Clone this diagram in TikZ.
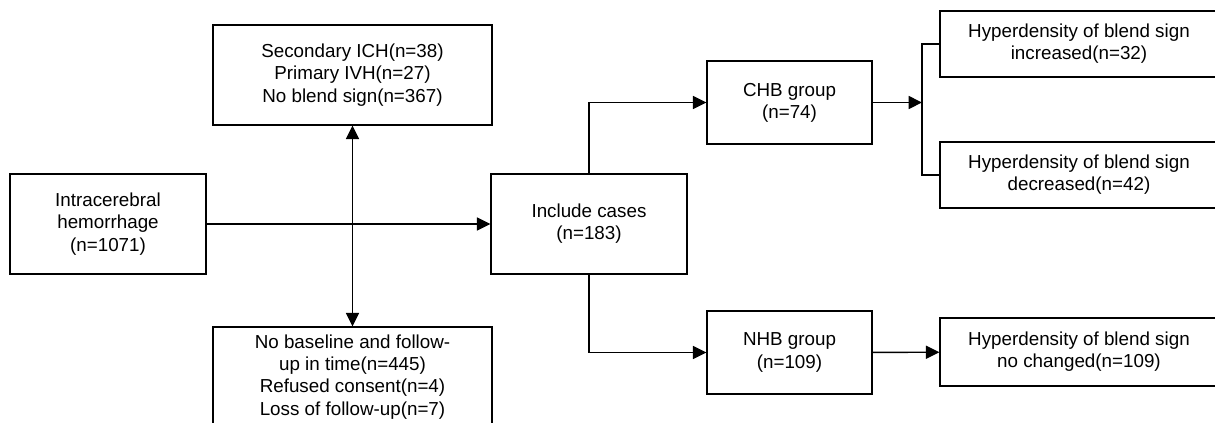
\documentclass[tikz,border=0pt]{standalone}
\usepackage{fontspec}
\setmainfont{Liberation Sans}
\usepackage{tikz}
\usetikzlibrary{arrows.meta,positioning}

\begin{document}
\begin{tikzpicture}[x=0.02cm, y=-0.02cm,
    box/.style={draw, line width=0.8pt, align=center, inner sep=0pt,
      font=\fontsize{10.7}{12.6}\selectfont},
    flow/.style={line width=0.8pt, -{Triangle[length=7.6pt,width=7.4pt]}},
    flowboth/.style={line width=0.8pt, {Triangle[length=7.6pt,width=7.4pt]}-{Triangle[length=7.6pt,width=7.4pt]}}]
    \useasboundingbox (0,0) rectangle (1215,423);
    % Start and exclusions
    \node[box, minimum width=3.92cm, minimum height=2cm] (ich) at (108,224)
      {Intracerebral\\hemorrhage\\(n=1071)};
    \node[box, minimum width=5.58cm, minimum height=2cm] (excl1) at (352.5,75)
      {Secondary ICH(n=38)\\Primary IVH(n=27)\\No blend sign(n=367)};
    \node[box, minimum width=5.58cm, minimum height=2cm] (excl2) at (352.5,377)
      {No baseline and follow-\\up in time(n=445)\\Refused consent(n=4)\\Loss of follow-up(n=7)};
    \node[box, minimum width=3.92cm, minimum height=2cm] (inc) at (589,224)
      {Include cases\\(n=183)};
    % Groups
    \node[box, minimum width=3.3cm, minimum height=1.66cm] (chb) at (789.5,102.5)
      {CHB group\\(n=74)};
    \node[box, minimum width=3.3cm, minimum height=1.66cm] (nhb) at (789.5,352.5)
      {NHB group\\(n=109)};
    % Outcomes
    \node[box, minimum width=5.56cm, minimum height=1.32cm] (incr) at (1079,44)
      {Hyperdensity of blend sign\\increased(n=32)};
    \node[box, minimum width=5.56cm, minimum height=1.32cm] (decr) at (1079,175)
      {Hyperdensity of blend sign\\decreased(n=42)};
    \node[box, minimum width=5.56cm, minimum height=1.36cm] (noch) at (1079,352)
      {Hyperdensity of blend sign\\no changed(n=109)};
    \coordinate (fork) at (922,102.5);
    % Connectors
    \draw[flow] (ich) -- (inc);
    \draw[flowboth] (excl1) -- (excl2);
    \draw[flow] (inc.north) |- (chb.west);
    \draw[flow] (inc.south) |- (nhb.west);
    \draw[flow] (chb) -- (fork);
    \draw[line width=0.8pt] (incr.west) -| (fork) |- (decr.west);
    \draw[flow] (nhb) -- (noch);
  \end{tikzpicture}
\end{document}
